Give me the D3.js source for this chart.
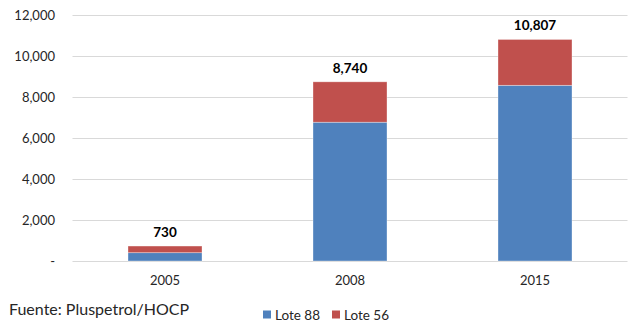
<!DOCTYPE html>
<html>
<head>
<meta charset="utf-8">
<script src="https://cdn.jsdelivr.net/npm/d3@7/dist/d3.min.js"></script>
<style>
  html, body { margin: 0; padding: 0; background: #fff; }
  svg { display: block; font-family: Lato, "Open Sans", "Liberation Sans", sans-serif; }
</style>
</head>
<body>
<svg id="chart" width="631" height="322"></svg>
<script>
// Production by block, stacked per year
const years = ["2005", "2008", "2015"];
const lote88 = [405, 6770, 8570];
const lote56 = [325, 1970, 2237];
const totals = [730, 8740, 10807];
const yTicks = [0, 2000, 4000, 6000, 8000, 10000, 12000];
const seriesNames = ["Lote 88", "Lote 56"];
const seriesColors = ["#4F81BD", "#C0504D"];

const svg = d3.select("#chart");
const margin = { left: 72.5, right: 3.5, top: 15, bottom: 61 };
const W = 631, H = 322;

const x = d3.scaleBand().domain(years)
  .range([margin.left, W - margin.right]).paddingInner(0.6).paddingOuter(0.3);
const y = d3.scaleLinear().domain([0, 12000]).range([H - margin.bottom, margin.top]);

// Gridlines
svg.append("g").selectAll("line").data(yTicks).join("line")
  .attr("x1", margin.left).attr("x2", W - margin.right)
  .attr("y1", d => Math.round(y(d)) + 0.5).attr("y2", d => Math.round(y(d)) + 0.5)
  .attr("stroke", "#d9d9d9").attr("stroke-width", 1);

// Y tick labels
const fmt = d => d === 0 ? "-" : d3.format(",")(d);
svg.append("g").selectAll("text").data(yTicks).join("text")
  .attr("x", 55).attr("y", d => y(d)).attr("dy", "0.35em")
  .attr("text-anchor", "end").attr("font-size", 13).attr("fill", "#262626")
  .text(fmt);

// Stacked bars
const rows = years.map((yr, i) => ({ year: yr, "Lote 88": lote88[i], "Lote 56": lote56[i] }));
const stack = d3.stack().keys(seriesNames)(rows);
svg.append("g").selectAll("g").data(stack).join("g")
  .attr("fill", (d, i) => seriesColors[i])
  .selectAll("rect").data(d => d).join("rect")
  .attr("x", d => x(d.data.year)).attr("width", x.bandwidth())
  .attr("y", d => y(d[1])).attr("height", d => y(d[0]) - y(d[1]))
  .attr("stroke", "rgba(255,255,255,0.45)").attr("stroke-width", 0.75);

// Total labels
svg.append("g").selectAll("text").data(years).join("text")
  .attr("x", d => x(d) + x.bandwidth() / 2)
  .attr("y", (d, i) => y(totals[i]) - 9)
  .attr("text-anchor", "middle").attr("font-size", 13.5).attr("font-weight", "bold")
  .attr("fill", "#000")
  .text((d, i) => d3.format(",")(totals[i]));

// X category labels
svg.append("g").selectAll("text").data(years).join("text")
  .attr("x", d => x(d) + x.bandwidth() / 2).attr("y", 285)
  .attr("text-anchor", "middle").attr("font-size", 13).attr("fill", "#262626")
  .text(d => d);

// Source note
svg.append("text").attr("x", 9).attr("y", 315)
  .attr("font-size", 16).attr("fill", "#262626")
  .text("Fuente: Pluspetrol/HOCP");

// Legend
const legend = svg.append("g").attr("transform", "translate(263,310.5)");
const lx = [0, 69];
seriesNames.forEach((name, i) => {
  const g = legend.append("g").attr("transform", `translate(${lx[i]},0)`);
  g.append("rect").attr("width", 8).attr("height", 8).attr("fill", seriesColors[i]);
  g.append("text").attr("x", 12).attr("y", 4).attr("dy", "0.38em")
    .attr("font-size", 13.5).attr("fill", "#262626").text(name);
});
</script>
</body>
</html>
